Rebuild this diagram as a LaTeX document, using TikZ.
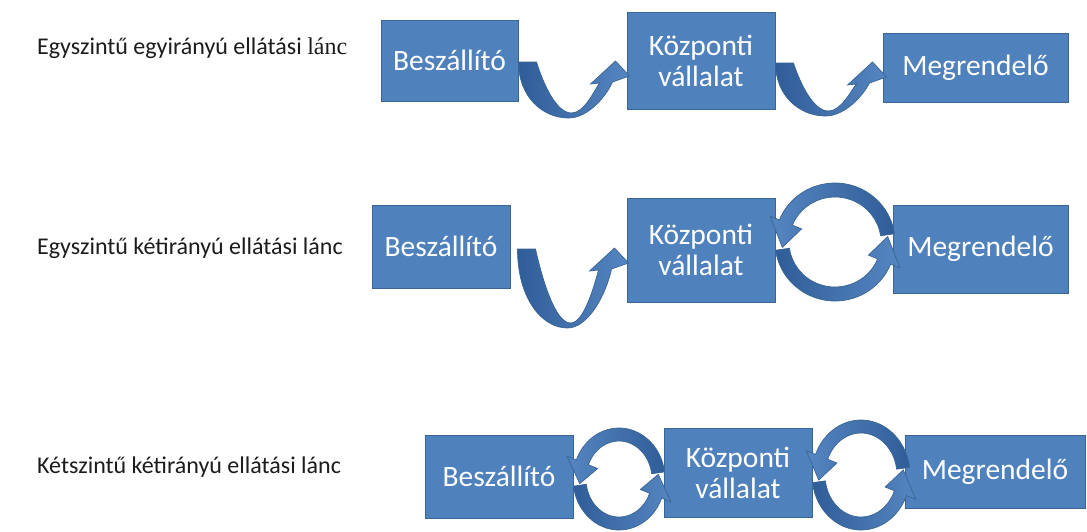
\documentclass[tikz,border=0pt]{standalone}
\usepackage{fontspec}
\setmainfont{Carlito}
\newfontfamily\serifpart{Liberation Serif}
\usetikzlibrary{calc}

\definecolor{boxfill}{HTML}{4F81BD}
\definecolor{boxline}{HTML}{3A6595}
\definecolor{arrowdark}{HTML}{2F5D97}
\definecolor{arrowlight}{HTML}{5686C1}
\definecolor{labelink}{HTML}{1C1C1C}

\tikzset{
  unit/.style={draw=boxline, line width=1pt, fill=boxfill, text=white,
    align=center, inner sep=0pt, font=\fontsize{29.5}{31}\selectfont},
  chainlabel/.style={anchor=west, inner sep=0pt, text=labelink,
    font=\fontsize{24}{26}\selectfont},
  flowdown/.style={draw=boxline, line width=0.7pt,
    left color=arrowdark, middle color=arrowlight, right color=arrowlight},
  flowtop/.style={draw=boxline, line width=0.7pt,
    left color=arrowlight, middle color=arrowlight, right color=arrowdark},
  flowbottom/.style={draw=boxline, line width=0.7pt,
    left color=arrowdark, middle color=arrowlight, right color=arrowlight},
}

% U-shaped arrow: tail at the origin, #1 = depth of the bend (y grows downward)
\newcommand{\uarrow}[1]{%
  \path[flowdown] (0,0)
    .. controls (0,{0.62*#1}) and (24,#1) .. (50,#1)
    .. controls (70,#1) and (88,{0.6*#1}) .. (94,20)
    -- (111,14) -- (97,-1) -- (72,22) -- (81,21)
    .. controls (76,{0.5*#1}) and (66,{#1-5}) .. (53,{#1-5})
    .. controls (38,{#1-5}) and (25,{0.4*#1}) .. (18,0) -- cycle;}

% half of a circular arrow pair, local y up:
% #1 x radius, #2 y radius, #3 band width, #4 angle offset, #5 style
\newcommand{\ringhalf}[5]{%
  \path[#5] ({#1*cos(#4+8)},{#2*sin(#4+8)})
    arc[start angle={#4+8}, end angle={#4+158}, x radius=#1, y radius=#2]
    -- ({(#1+10)*cos(#4+158)},{(#2+10)*sin(#4+158)})
    -- ({(#1-#3/2)*cos(#4+186)},{(#2-#3/2)*sin(#4+186)})
    -- ({(#1-#3-10)*cos(#4+158)},{(#2-#3-10)*sin(#4+158)})
    -- ({(#1-#3)*cos(#4+158)},{(#2-#3)*sin(#4+158)})
    arc[start angle={#4+158}, end angle={#4+8}, x radius={#1-#3}, y radius={#2-#3}]
    -- cycle;}
\newcommand{\ringpair}[3]{%
  \begin{scope}[yscale=-1]
    \ringhalf{#1}{#2}{#3}{0}{flowtop}
    \ringhalf{#1}{#2}{#3}{180}{flowbottom}
  \end{scope}}

\begin{document}
\begin{tikzpicture}[x=1pt, y=-1pt]
  \useasboundingbox[fill=white] (0,0) rectangle (1087,531);

  % row labels
  \node[chainlabel] (l1) at (37,48) {Egyszintű egyirányú ellátási {\serifpart lánc}};
  \node[chainlabel] (l2) at (37,248) {Egyszintű kétirányú ellátási lánc};
  \node[chainlabel] (l3) at (37,467) {Kétszintű kétirányú ellátási lánc};

  % row 1
  \node[unit, minimum width=137, minimum height=81] (b1) at (449.5,60.5) {Beszállító};
  \node[unit, minimum width=148, minimum height=97] (k1) at (701,60.5) {Központi\\vállalat};
  \node[unit, minimum width=185, minimum height=69] (m1) at (975.5,67.5) {Megrendelő};

  % row 2
  \node[unit, minimum width=138, minimum height=83] (b2) at (441,246.5) {Beszállító};
  \node[unit, minimum width=148, minimum height=104] (k2) at (701,250) {Központi\\vállalat};
  \node[unit, minimum width=175, minimum height=88] (m2) at (980.5,249) {Megrendelő};

  % row 3
  \node[unit, minimum width=148, minimum height=83] (b3) at (499,476.5) {Beszállító};
  \node[unit, minimum width=148, minimum height=89] (k3) at (738,472.5) {Központi\\vállalat};
  \node[unit, minimum width=180, minimum height=73] (m3) at (995,471.5) {Megrendelő};

  % one-way links
  \begin{scope}[shift={($(b1.east)+(0,1.5)$)}] \uarrow{56} \end{scope}
  \begin{scope}[shift={($(k1.east)+(0,2.5)$)}] \uarrow{53} \end{scope}
  \begin{scope}[shift={($(b2.east)+(7,2.5)$)}] \uarrow{79} \end{scope}

  % two-way links
  \begin{scope}[shift={($(k2.east)!0.5!(m2.west)+(1,-7.5)$)}] \ringpair{60}{59}{14} \end{scope}
  \begin{scope}[shift={($(b3.east)!0.5!(k3.west)+(0.5,4.5)$)}] \ringpair{46}{51}{13} \end{scope}
  \begin{scope}[shift={($(k3.east)!0.5!(m3.west)+(2.5,3)$)}] \ringpair{49}{55}{13} \end{scope}
\end{tikzpicture}
\end{document}
